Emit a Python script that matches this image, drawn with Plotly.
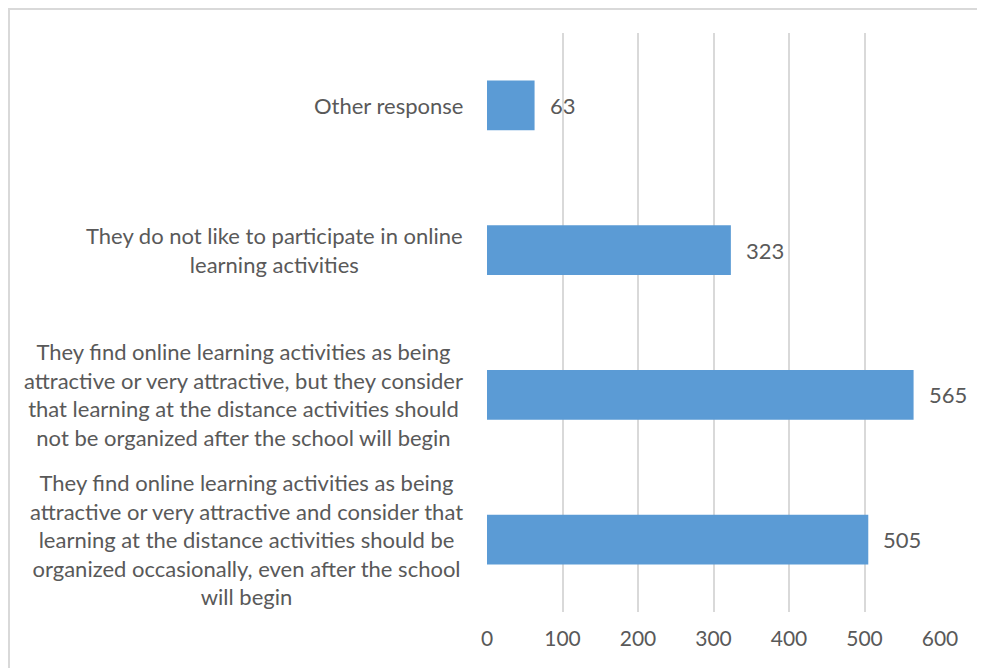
import plotly.graph_objects as go

categories = [
    "Other response",
    "They do not like to participate in online<br>learning activities",
    "They find online learning activities as being<br>attractive or very attractive, but they consider<br>that learning at the distance activities should<br>not be organized after the school will begin",
    "They find online learning activities as being<br>attractive or very attractive and consider that<br>learning at the distance activities should be<br>organized occasionally, even after the school<br>will begin",
]
values = [63, 323, 565, 505]
x_ticks = [0, 100, 200, 300, 400, 500, 600]

FONT = "Lato"
TXT = "#595959"
GRID = "#D9D9D9"
BAR = "#5B9BD5"

fig = go.Figure()
fig.add_trace(go.Bar(
    y=list(range(len(categories))),
    x=values,
    orientation="h",
    marker=dict(color=BAR, line=dict(width=0)),
    hoverinfo="skip",
))

annotations = []
for i, (cat, v) in enumerate(zip(categories, values)):
    annotations.append(dict(
        x=0, xref="paper", xanchor="right", xshift=-22,
        y=i, yref="y", yanchor="middle",
        text=cat, align="center", showarrow=False,
        font=dict(family=FONT, size=22, color=TXT),
    ))
    annotations.append(dict(
        x=v, xref="x", xanchor="left", xshift=13,
        y=i, yref="y", yanchor="middle",
        text=str(v), showarrow=False,
        font=dict(family=FONT, size=22, color=TXT),
    ))

# page is offset by 8px (body margin)
OFF = 8
W, H = 985 - OFF, 669 - OFF
L, R, T, B = 487 - OFF, 985 - 940, 33 - OFF, 669 - 612
pw, ph = W - L - R, H - T - B

def px_x(p):
    return (p - OFF - L) / pw

def px_y(p):
    return 1 - (p - OFF - T) / ph

border = dict(color=GRID, width=2)
shapes = [
    dict(type="line", xref="paper", yref="paper", x0=px_x(8), x1=px_x(990), y0=px_y(9), y1=px_y(9), line=border),
    dict(type="line", xref="paper", yref="paper", x0=px_x(9), x1=px_x(9), y0=px_y(8), y1=px_y(668), line=border),
]

fig.update_layout(
    width=W, height=H,
    margin=dict(l=L, r=R, t=T, b=B),
    paper_bgcolor="white", plot_bgcolor="white",
    bargap=0.655,
    showlegend=False,
    annotations=annotations,
    shapes=shapes,
    xaxis=dict(
        range=[0, 600], tickvals=x_ticks, ticktext=[str(t) for t in x_ticks],
        showgrid=True, gridcolor=GRID, gridwidth=1.5,
        zeroline=False, showline=False, ticks="",
        tickfont=dict(family=FONT, size=21, color=TXT),
        ticklabelstandoff=12,
    ),
    yaxis=dict(
        range=[3.5, -0.5], showticklabels=False, showgrid=False,
        zeroline=False, showline=False, ticks="",
    ),
)

fig.write_html("out.html")
